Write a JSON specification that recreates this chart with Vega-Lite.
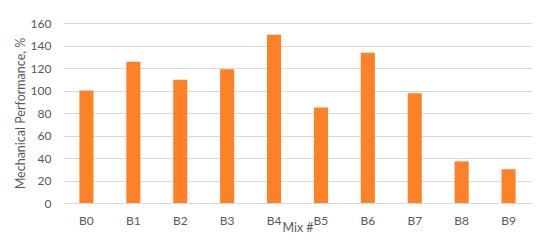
{
  "$schema": "https://vega.github.io/schema/vega-lite/v6.json",
  "autosize": "none",
  "width": 469,
  "height": 180,
  "padding": {"left": 63, "top": 23, "right": 18, "bottom": 40},
  "background": "white",
  "data": {"values": [
    {"mix": "B0", "perf": 100},
    {"mix": "B1", "perf": 125.5},
    {"mix": "B2", "perf": 109.5},
    {"mix": "B3", "perf": 119},
    {"mix": "B4", "perf": 149.5},
    {"mix": "B5", "perf": 85},
    {"mix": "B6", "perf": 133.5},
    {"mix": "B7", "perf": 97.5},
    {"mix": "B8", "perf": 37},
    {"mix": "B9", "perf": 30}
  ]},
  "mark": {"type": "bar", "color": "#FD8127"},
  "encoding": {
    "x": {"field": "mix", "type": "nominal", "title": "Mix #",
      "scale": {"paddingInner": 0.7, "paddingOuter": 0.35},
      "axis": {"labelAngle": 0, "labelPadding": 12, "titlePadding": -5, "domainColor": "#D9D9D9", "ticks": false}},
    "y": {"field": "perf", "type": "quantitative", "title": "Mechanical Performance, %",
      "scale": {"domain": [0, 160]},
      "axis": {"values": [0, 20, 40, 60, 80, 100, 120, 140, 160], "domain": false, "ticks": false, "labelPadding": 12, "titlePadding": 3, "gridColor": "#D9D9D9"}}
  },
  "config": {
    "view": {"stroke": null},
    "font": "Lato",
    "axis": {"labelFont": "Lato", "titleFont": "Lato", "labelFontSize": 12, "titleFontSize": 12.5, "titleFontWeight": "normal", "labelColor": "#595959", "titleColor": "#595959"}
  }
}
